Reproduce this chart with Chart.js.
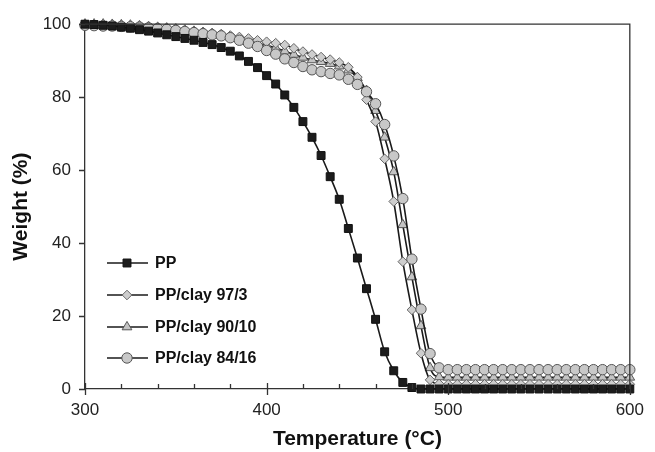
<!DOCTYPE html>
<html>
<head>
<meta charset="utf-8">
<script src="https://cdn.jsdelivr.net/npm/chart.js@4.4.1/dist/chart.umd.min.js"></script>
<style>
    html, body { margin: 0; padding: 0; background: #fff; }
    #wrap { width: 655px; height: 452px; }
</style>
</head>
<body>
<div id="wrap"><canvas id="tgaChart" width="655" height="452"></canvas></div>
<script>
// Temperature (°C) of each reading
const temps = [300, 305, 310, 315, 320, 325, 330, 335, 340, 345,
               350, 355, 360, 365, 370, 375, 380, 385, 390, 395,
               400, 405, 410, 415, 420, 425, 430, 435, 440, 445,
               450, 455, 460, 465, 470, 475, 480, 485, 490, 495,
               500, 505, 510, 515, 520, 525, 530, 535, 540, 545,
               550, 555, 560, 565, 570, 575, 580, 585, 590, 595, 600];

// Weight (%) per sample
const pp = [100, 99.9, 99.7, 99.5, 99.2, 98.9, 98.5, 98.1, 97.6, 97.1,
            96.6, 96.1, 95.6, 95.0, 94.4, 93.6, 92.6, 91.3, 89.8, 88.1,
            85.9, 83.6, 80.6, 77.2, 73.3, 69.0, 64.0, 58.2, 52.0, 44.0,
            35.9, 27.5, 19.1, 10.2, 5.0, 1.8, 0.4, 0, 0, 0,
            0, 0, 0, 0, 0, 0, 0, 0, 0, 0,
            0, 0, 0, 0, 0, 0, 0, 0, 0, 0, 0];
const clay97 = [100, 100, 100, 99.9, 99.8, 99.7, 99.6, 99.4, 99.2, 99.0,
                98.8, 98.5, 98.2, 97.9, 97.6, 97.3, 96.9, 96.5, 96.1, 95.6,
                95.2, 94.8, 94.3, 93.4, 92.5, 91.7, 91.0, 90.3, 89.5, 88.2,
                85.5, 79.3, 73.3, 63.1, 51.4, 34.9, 21.7, 9.8, 2.5, 1.4,
                1.3, 1.3, 1.3, 1.3, 1.3, 1.3, 1.3, 1.3, 1.3, 1.3,
                1.3, 1.3, 1.3, 1.3, 1.3, 1.3, 1.3, 1.3, 1.3, 1.3, 1.3];
const clay90 = [100, 100, 100, 99.9, 99.8, 99.7, 99.5, 99.3, 99.1, 98.9,
                98.6, 98.3, 98.0, 97.7, 97.3, 96.9, 96.5, 96.0, 95.5, 94.8,
                94.2, 93.5, 92.6, 91.7, 90.9, 90.2, 89.7, 89.2, 88.5, 87.4,
                85.3, 81.8, 76.3, 69.0, 59.5, 45.0, 30.7, 17.3, 5.8, 3.3,
                3.2, 3.2, 3.2, 3.2, 3.2, 3.2, 3.2, 3.2, 3.2, 3.2,
                3.2, 3.2, 3.2, 3.2, 3.2, 3.2, 3.2, 3.2, 3.2, 3.2, 3.2];
const clay84 = [99.7, 99.6, 99.5, 99.5, 99.4, 99.3, 99.2, 99.0, 98.8, 98.6,
                98.3, 98.0, 97.7, 97.4, 97.1, 96.8, 96.3, 95.6, 94.8, 93.9,
                92.8, 91.8, 90.5, 89.5, 88.4, 87.5, 87.0, 86.5, 86.1, 84.9,
                83.5, 81.5, 78.2, 72.5, 63.9, 52.2, 35.6, 21.9, 9.7, 5.8,
                5.3, 5.3, 5.3, 5.3, 5.3, 5.3, 5.3, 5.3, 5.3, 5.3,
                5.3, 5.3, 5.3, 5.3, 5.3, 5.3, 5.3, 5.3, 5.3, 5.3, 5.3];

const seriesNames = ['PP', 'PP/clay 97/3', 'PP/clay 90/10', 'PP/clay 84/16'];
const xTicks = [300, 400, 500, 600];
const yTicks = [0, 20, 40, 60, 80, 100];

const FONT = "'Liberation Sans', Arial, sans-serif";
const toPoints = (vals) => vals.map((v, i) => ({ x: temps[i], y: v }));

function series(label, data, style, radius, fill, edge, order) {
    return {
        label: label,
        data: toPoints(data),
        order: order,
        borderColor: '#1a1a1a',
        borderWidth: 1.6,
        pointStyle: style,
        pointRadius: radius,
        pointBackgroundColor: fill,
        pointBorderColor: edge,
        pointBorderWidth: 1,
        cubicInterpolationMode: 'monotone',
        clip: false
    };
}

// Box frame + inside minor ticks, like the original plot
const frameTicks = {
    id: 'frameTicks',
    afterDatasetsDraw(chart) {
        const { ctx, chartArea: a, scales: { x, y } } = chart;
        ctx.save();
        ctx.strokeStyle = '#333';
        ctx.lineWidth = 1.3;
        ctx.beginPath();
        ctx.moveTo(a.left, a.top);
        ctx.lineTo(a.right, a.top);
        ctx.lineTo(a.right, a.bottom);
        for (let t = 300; t <= 600; t += 20) {
            const px = Math.round(x.getPixelForValue(t)) + 0.5;
            if (t % 100 === 0) {
                ctx.moveTo(px, a.bottom - 6);
                ctx.lineTo(px, a.bottom + 6);
            } else {
                ctx.moveTo(px, a.bottom - 5);
                ctx.lineTo(px, a.bottom);
            }
        }
        yTicks.forEach(v => {
            const py = Math.round(y.getPixelForValue(v)) + 0.5;
            ctx.moveTo(a.left - 6, py);
            ctx.lineTo(a.left, py);
        });
        ctx.stroke();
        ctx.restore();
    }
};

// Legend drawn inside the plot, lower left
const insideLegend = {
    id: 'insideLegend',
    afterDraw(chart) {
        const { ctx } = chart;
        const rows = [263, 295, 327, 358];
        ctx.save();
        chart.data.datasets.forEach((ds, i) => {
            const yy = rows[i];
            ctx.strokeStyle = ds.borderColor;
            ctx.lineWidth = ds.borderWidth;
            ctx.beginPath();
            ctx.moveTo(107, yy);
            ctx.lineTo(148, yy);
            ctx.stroke();
            ctx.fillStyle = ds.pointBackgroundColor;
            ctx.strokeStyle = ds.pointBorderColor;
            ctx.lineWidth = ds.pointBorderWidth;
            Chart.helpers.drawPoint(ctx, {
                pointStyle: ds.pointStyle,
                radius: ds.pointRadius,
                rotation: 0,
                borderWidth: ds.pointBorderWidth
            }, 127, yy);
            ctx.fillStyle = '#111';
            ctx.font = 'bold 16px ' + FONT;
            ctx.textBaseline = 'middle';
            ctx.textAlign = 'left';
            ctx.fillText(ds.label, 155, yy + 1);
        });
        ctx.restore();
    }
};

const ctx = document.getElementById('tgaChart').getContext('2d');
new Chart(ctx, {
    type: 'line',
    data: {
        datasets: [
            series(seriesNames[0], pp, 'rect', 5.6, '#1c1c1c', '#111', 0),
            series(seriesNames[1], clay97, 'rectRot', 4.8, '#cdcdcd', '#666', 2),
            series(seriesNames[2], clay90, 'triangle', 5.6, '#c4c4c4', '#555', 3),
            series(seriesNames[3], clay84, 'circle', 5.2, '#c8c8c8', '#555', 1)
        ]
    },
    options: {
        responsive: false,
        animation: false,
        devicePixelRatio: 1,
        layout: { padding: { top: 20, right: 18, left: 0, bottom: 0 } },
        plugins: {
            legend: { display: false },
            tooltip: { enabled: false }
        },
        scales: {
            x: {
                type: 'linear',
                min: 300,
                max: 600,
                afterFit: (s) => { s.height = 63; },
                afterBuildTicks: (s) => { s.ticks = xTicks.map(v => ({ value: v })); },
                grid: { display: false, drawTicks: false },
                border: { display: true, color: '#333', width: 1.3 },
                ticks: {
                    padding: 11,
                    color: '#222',
                    font: { family: FONT, size: 17 }
                },
                title: {
                    display: true,
                    text: 'Temperature (°C)',
                    color: '#111',
                    font: { family: FONT, size: 21, weight: 'bold' },
                    padding: { top: 0, bottom: 0 }
                }
            },
            y: {
                min: 0,
                max: 100,
                afterFit: (s) => { s.width = 85; },
                afterBuildTicks: (s) => { s.ticks = yTicks.map(v => ({ value: v })); },
                grid: { display: false, drawTicks: false },
                border: { display: true, color: '#333', width: 1.3 },
                ticks: {
                    padding: 14,
                    color: '#222',
                    font: { family: FONT, size: 17 }
                },
                title: {
                    display: true,
                    text: 'Weight (%)',
                    color: '#111',
                    font: { family: FONT, size: 21, weight: 'bold' },
                    padding: { top: 9, bottom: 0 }
                }
            }
        }
    },
    plugins: [frameTicks, insideLegend]
});
</script>
</body>
</html>
